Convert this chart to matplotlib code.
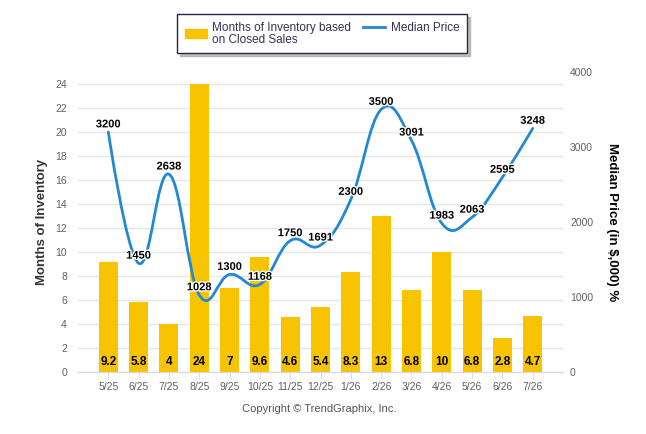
#!/usr/bin/env python

"""Months of inventory (bars) and median price (spline) chart."""

import numpy as np
import matplotlib
matplotlib.use('Agg')
import matplotlib.pyplot as plt
import matplotlib.patheffects as pe
from matplotlib.path import Path
from matplotlib.patches import PathPatch, Patch
from matplotlib.lines import Line2D
from matplotlib.legend_handler import HandlerLine2D

plt.rcParams['font.family'] = ['Liberation Sans', 'DejaVu Sans']

# data
months = ['5/25', '6/25', '7/25', '8/25', '9/25', '10/25', '11/25', '12/25',
          '1/26', '2/26', '3/26', '4/26', '5/26', '6/26', '7/26']
inventory = [9.2, 5.8, 4, 24, 7, 9.6, 4.6, 5.4, 8.3, 13, 6.8, 10, 6.8, 2.8, 4.7]
price = [3200, 1450, 2638, 1028, 1300, 1168, 1750, 1691, 2300, 3500, 3091,
         1983, 2063, 2595, 3248]

BAR_COLOR = '#F8C300'
LINE_COLOR = '#2288D2'
TICK_COLOR = '#606060'
TITLE_COLOR = '#333333'


def spline_path(xs, ys, smoothing=1.5):
    """Return a bezier path through the points, highcharts style spline."""
    n = len(xs)
    left = [(xs[i], ys[i]) for i in range(n)]
    right = [(xs[i], ys[i]) for i in range(n)]
    denom = smoothing + 1
    for i in range(1, n - 1):
        lx, ly = xs[i - 1], ys[i - 1]
        px, py = xs[i], ys[i]
        nx, ny = xs[i + 1], ys[i + 1]
        lcx = (smoothing * px + lx) / denom
        lcy = (smoothing * py + ly) / denom
        rcx = (smoothing * px + nx) / denom
        rcy = (smoothing * py + ny) / denom
        # keep both control points on one line through the point
        corr = (rcy - lcy) * (rcx - px) / (rcx - lcx) + py - rcy
        left[i] = (lcx, lcy + corr)
        right[i] = (rcx, rcy + corr)
    verts = [(xs[0], ys[0])]
    codes = [Path.MOVETO]
    for i in range(1, n):
        verts += [right[i - 1], left[i], (xs[i], ys[i])]
        codes += [Path.CURVE4] * 3
    return Path(verts, codes)


class TopLineHandler(HandlerLine2D):
    """Legend line drawn level with the first text line."""

    def create_artists(self, legend, orig_handle, xdescent, ydescent,
                       width, height, fontsize, trans):
        arts = super().create_artists(legend, orig_handle, xdescent, ydescent,
                                      width, height, fontsize, trans)
        for a in arts:
            a.set_ydata(np.asarray(a.get_ydata()) + 0.6 * fontsize)
        return arts


def main():
    fig = plt.figure(figsize=(6.46, 4.34), dpi=100)
    ax = fig.add_axes([78 / 646, 62 / 434, 485 / 646, 300 / 434])
    ax2 = ax.twinx()

    x = list(range(len(months)))
    halo = [pe.withStroke(linewidth=2, foreground='white')]

    # bars with values at the bottom
    ax.bar(x, inventory, width=0.63, color=BAR_COLOR, zorder=2)
    for xi, v in zip(x, inventory):
        ax.annotate('%g' % v, (xi, 0), xytext=(0, 7.5), textcoords='offset points',
                    ha='center', va='center', fontsize=8.5, fontweight='bold',
                    color='black', zorder=4)

    # median price spline
    path = spline_path(x, price)
    ax2.add_patch(PathPatch(path, fill=False, edgecolor=LINE_COLOR, lw=2,
                            capstyle='round', joinstyle='round', zorder=3))
    for xi, v in zip(x, price):
        ax2.annotate('%d' % v, (xi, v), xytext=(0, 5.5), textcoords='offset points',
                     ha='center', va='center', fontsize=8, fontweight='bold',
                     color='black', path_effects=halo, zorder=5)

    # left axis
    ax.set_xlim(-1, 15)
    ax.set_ylim(0, 25)
    ax.set_yticks(range(0, 25, 2))
    ax.set_xticks(x)
    ax.set_xticklabels(months)
    ax.grid(axis='y', color='#E6E6E6', lw=1, zorder=0)
    ax.set_axisbelow(True)
    ax.tick_params(axis='y', length=0, labelsize=7.5, labelcolor=TICK_COLOR, pad=8)
    ax.tick_params(axis='x', length=5, color='#E0E0E0', labelsize=7.5,
                   labelcolor=TICK_COLOR, pad=2)
    ax.set_ylabel('Months of Inventory', fontsize=9.5, fontweight='bold',
                  color=TITLE_COLOR, labelpad=5)

    # right axis
    ax2.set_ylim(0, 4000)
    ax2.set_yticks(range(0, 4001, 1000))
    ax2.tick_params(axis='y', length=0, labelsize=7.5, labelcolor=TICK_COLOR, pad=5)
    ax2.set_ylabel('Median Price (in $,000) %', fontsize=9.5, fontweight='bold',
                   color='black', rotation=270, labelpad=18)

    for a in (ax, ax2):
        for side in ('left', 'right', 'top'):
            a.spines[side].set_visible(False)
        a.spines['bottom'].set_color('#D8D8D8')

    # legend
    line_handle = Line2D([], [], color=LINE_COLOR, lw=2)
    handles = [Patch(color=BAR_COLOR), line_handle]
    labels = ['Months of Inventory based\non Closed Sales', 'Median Price\n']
    leg = fig.legend(handles, labels, ncol=2, loc='upper center',
                     bbox_to_anchor=(322 / 646, 1 - 8 / 434), fontsize=8.5,
                     frameon=True, fancybox=False,
                     shadow={'color': '#999999', 'alpha': 0.6},
                     borderpad=0.65, handlelength=1.9, handleheight=0.8,
                     handletextpad=0.45, columnspacing=1.0,
                     handler_map={line_handle: TopLineHandler()})
    leg.get_frame().set_edgecolor('#1F2A4A')
    leg.get_frame().set_linewidth(1)
    for t in leg.get_texts():
        t.set_color('#333355')
        t.set_linespacing(1.0)

    fig.text(319 / 646, 1 - 409 / 434, 'Copyright \u00a9 TrendGraphix, Inc.',
             ha='center', va='center', fontsize=8, color='#555555')

    fig.savefig('out.png', dpi=100)


if __name__ == '__main__':
    main()
